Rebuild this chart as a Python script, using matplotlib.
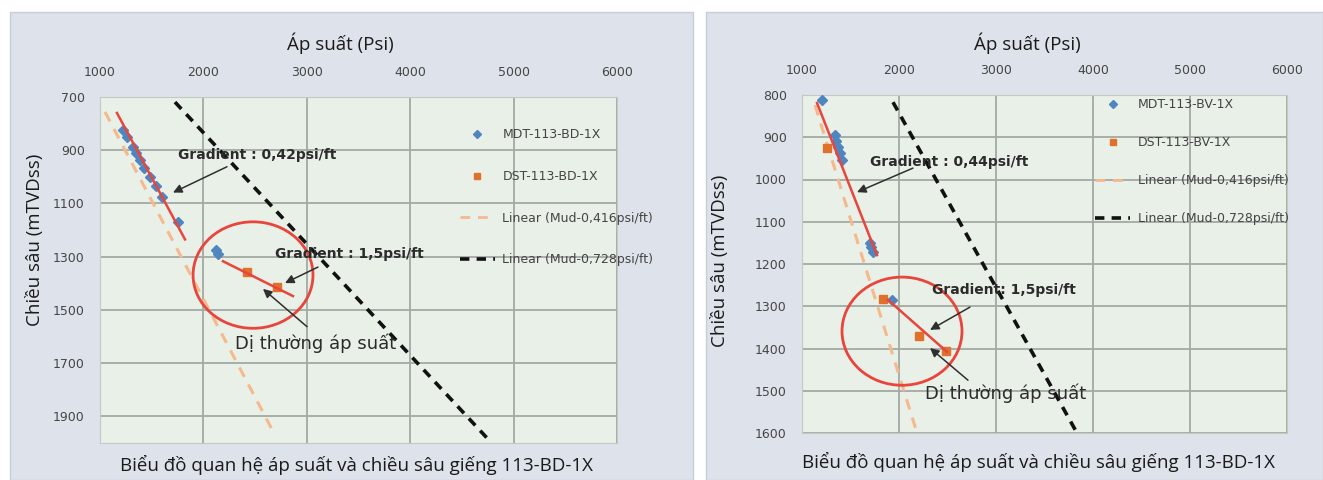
import matplotlib.pyplot as plt
from matplotlib.lines import Line2D
from matplotlib.patches import Ellipse, Rectangle

# well 113-BD-1X (left panel)
mdt1_p = [1222, 1260, 1319, 1350, 1387, 1430, 1484, 1540, 1600, 1754, 2122, 2141]
mdt1_d = [823, 850, 887, 910, 935, 965, 999, 1035, 1074, 1171, 1276, 1291]
dst1_p = [2421, 2711]
dst1_d = [1358, 1414]
fit1_upper_p = [1164, 1822]
fit1_upper_d = [760, 1235]
fit1_lower_p = [2189, 2866]
fit1_lower_d = [1317, 1448]
mud416_1_p = [1048, 2673]
mud416_1_d = [756, 1956]
mud728_1_p = [1725, 4771]
mud728_1_d = [719, 1993]

# well 113-BV-1X (right panel)
mdt2_p = [1206, 1340, 1355, 1371, 1390, 1412, 1701, 1715, 1732, 1928]
mdt2_d = [812, 895, 910, 923, 938, 954, 1150, 1160, 1172, 1285]
dst2_p = [1258, 1835, 2206, 2485]
dst2_d = [925, 1283, 1370, 1406]
fit2_upper_p = [1155, 1773]
fit2_upper_d = [819, 1179]
fit2_lower_p = [1887, 2495]
fit2_lower_d = [1285, 1408]
mud416_2_p = [1134, 2186]
mud416_2_d = [824, 1600]
mud728_2_p = [1938, 3835]
mud728_2_d = [817, 1600]

x_ticks = [1000, 2000, 3000, 4000, 5000, 6000]
y_ticks_1 = [700, 900, 1100, 1300, 1500, 1700, 1900]
y_ticks_2 = [800, 900, 1000, 1100, 1200, 1300, 1400, 1500, 1600]

labels_1 = ["MDT-113-BD-1X", "DST-113-BD-1X",
            "Linear (Mud-0,416psi/ft)", "Linear (Mud-0,728psi/ft)"]
labels_2 = ["MDT-113-BV-1X", "DST-113-BV-1X",
            "Linear (Mud-0,416psi/ft)", "Linear (Mud-0,728psi/ft)"]
x_title = "Áp suất (Psi)"
y_title = "Chiều sâu (mTVDss)"
caption = "Biểu đồ quan hệ áp suất và chiều sâu giếng 113-BD-1X"

BLUE = "#4f86c0"
ORANGE = "#e0712c"
RED = "#e8453c"
PEACH = "#f5b98e"
GRID = "#a3aaa3"
PANEL = "#dee3eb"
PLOT_BG = "#e9f0e7"
NARROW = ["DejaVu Sans Condensed", "DejaVu Sans"]
MAIN = ["Open Sans", "DejaVu Sans"]

W, H = 1323, 480


def px(x, y):
    return x / W, 1 - y / H


def draw_panel(ax, mdt, dst, fit_up, fit_low, mud416, mud728, ellipse,
               y_ticks, ylim, labels, legend_anchor, legend_spacing, notes):
    ax.set_facecolor(PLOT_BG)
    ax.set_xlim(1000, 6000)
    ax.set_ylim(*ylim)
    ax.xaxis.tick_top()
    ax.set_xticks(x_ticks)
    ax.set_yticks(y_ticks)
    ax.tick_params(length=0, labelsize=9, labelcolor="#454545")
    ax.tick_params(axis="x", pad=13)
    ax.tick_params(axis="y", pad=11)
    for lab in ax.get_xticklabels() + ax.get_yticklabels():
        lab.set_family(NARROW)
    ax.grid(True, color=GRID, lw=1.3, zorder=0)
    ax.set_axisbelow(True)
    for s in ax.spines.values():
        s.set_color("#c3c9c3")

    ax.plot(*mud416, color=PEACH, lw=2.2, ls=(0, (3.5, 2.8)), zorder=2)
    ax.plot(*mud728, color="#111111", lw=2.6, ls=(0, (2.6, 2.0)), zorder=2)
    ax.plot(*mdt, ls="none", marker="D", ms=5, color=BLUE, zorder=3)
    ax.plot(*dst, ls="none", marker="s", ms=5.5, color=ORANGE, zorder=3)
    ax.plot(*fit_up, color=RED, lw=1.8, zorder=4)
    ax.plot(*fit_low, color=RED, lw=1.8, zorder=4)
    cx, cy, ew, eh = ellipse
    ax.add_patch(Ellipse((cx, cy), ew, eh, fill=False, ec=RED, lw=2, zorder=5))

    for text, xy, tail, head, bold in notes:
        ax.text(xy[0], xy[1], text, ha="left", va="center",
                fontsize=10 if bold else 13,
                fontweight="bold" if bold else "normal",
                family=NARROW, color="#2b2b2b", zorder=6)
        ax.annotate("", xy=head, xytext=tail,
                    arrowprops=dict(arrowstyle="-|>", color="#2f2f2f", lw=1.1,
                                    mutation_scale=13, shrinkA=0, shrinkB=0),
                    zorder=6)

    handles = [
        Line2D([], [], ls="none", marker="D", ms=4, color=BLUE),
        Line2D([], [], ls="none", marker="s", ms=5, color=ORANGE),
        Line2D([], [], color=PEACH, lw=2, ls=(0, (3.5, 2.8))),
        Line2D([], [], color="#111111", lw=2.6, ls=(0, (2.6, 2.0))),
    ]
    leg = ax.legend(handles, labels, loc="upper left", bbox_to_anchor=legend_anchor,
                    frameon=False, borderpad=0, borderaxespad=0,
                    handlelength=2.8, handletextpad=0.6,
                    labelspacing=legend_spacing,
                    prop={"family": NARROW, "size": 9})
    for t in leg.get_texts():
        t.set_color("#444444")


fig = plt.figure(figsize=(W / 100, H / 100), dpi=100)
fig.patch.set_facecolor("white")
fig.patches.append(Rectangle(px(10, 480), 683 / W, 468 / H, transform=fig.transFigure,
                             fc=PANEL, ec="#c9ced6", lw=1, zorder=-10))
fig.patches.append(Rectangle(px(706, 480), 617 / W, 468 / H, transform=fig.transFigure,
                             fc=PANEL, ec="#c9ced6", lw=1, zorder=-10))

ax1 = fig.add_axes([100 / W, 1 - 443 / H, 517 / W, 346 / H])
ax2 = fig.add_axes([802 / W, 1 - 433 / H, 485 / W, 338 / H])

draw_panel(
    ax1, (mdt1_p, mdt1_d), (dst1_p, dst1_d),
    (fit1_upper_p, fit1_upper_d), (fit1_lower_p, fit1_lower_d),
    (mud416_1_p, mud416_1_d), (mud728_1_p, mud728_1_d),
    (2480, 1369, 1160, 400),
    y_ticks_1, (2000, 700), labels_1, (0.696, 0.91), 2.3,
    [
        ("Gradient : 0,42psi/ft", (1754, 917), (2228, 962), (1706, 1059), True),
        ("Gradient : 1,5psi/ft", (2692, 1291), (3108, 1339), (2789, 1399), True),
        ("Dị thường áp suất", (2305, 1627), (3002, 1563), (2576, 1421), False),
    ],
)
draw_panel(
    ax2, (mdt2_p, mdt2_d), (dst2_p, dst2_d),
    (fit2_upper_p, fit2_upper_d), (fit2_lower_p, fit2_lower_d),
    (mud416_2_p, mud416_2_d), (mud728_2_p, mud728_2_d),
    (2031, 1359, 1237, 256),
    y_ticks_2, (1600, 800), labels_2, (0.605, 0.99), 2.0,
    [
        ("Gradient : 0,44psi/ft", (1701, 959), (2144, 973), (1567, 1030), True),
        ("Gradient: 1,5psi/ft", (2340, 1262), (2732, 1302), (2320, 1356), True),
        ("Dị thường áp suất", (2268, 1505), (2711, 1475), (2320, 1399), False),
    ],
)

for cx, cy_top, ylx, yly in [(340, 43, 35, 240), (1027, 43, 720, 261)]:
    fig.text(*px(cx, cy_top), x_title, ha="center", va="center",
             fontsize=13.5, family=MAIN, color="#1a1a1a")
    fig.text(*px(ylx, yly), y_title, ha="center", va="center", rotation=90,
             fontsize=13.5, family=MAIN, color="#1a1a1a")
fig.text(*px(356, 465), caption, ha="center", va="center",
         fontsize=13.5, family=MAIN, color="#1a1a1a")
fig.text(*px(1039, 462), caption, ha="center", va="center",
         fontsize=13.5, family=MAIN, color="#1a1a1a")

fig.savefig("out.png", dpi=100)
